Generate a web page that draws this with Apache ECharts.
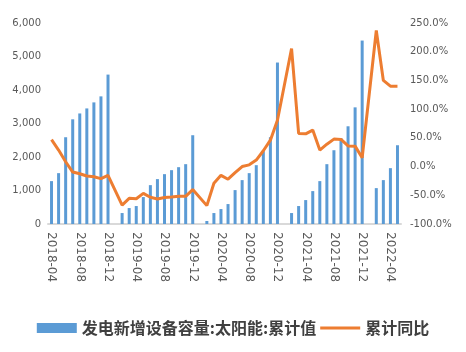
<!DOCTYPE html>
<html>
<head>
<meta charset="utf-8">
<script src="https://cdn.jsdelivr.net/npm/echarts@6/dist/echarts.min.js"></script>
<style>
  html, body { margin: 0; padding: 0; background: #fff; }
  #chart { width: 466px; height: 352px; }
</style>
</head>
<body>
<div id="chart"></div>
<script>
// 月份
var months = [
  '2018-04','2018-05','2018-06','2018-07','2018-08','2018-09','2018-10','2018-11','2018-12',
  '2019-01','2019-02','2019-03','2019-04','2019-05','2019-06','2019-07','2019-08','2019-09','2019-10','2019-11','2019-12',
  '2020-01','2020-02','2020-03','2020-04','2020-05','2020-06','2020-07','2020-08','2020-09','2020-10','2020-11','2020-12',
  '2021-01','2021-02','2021-03','2021-04','2021-05','2021-06','2021-07','2021-08','2021-09','2021-10','2021-11','2021-12',
  '2022-01','2022-02','2022-03','2022-04','2022-05'
];
// 太阳能累计值 (万千瓦)
var capacity = [
  1280, 1518, 2590, 3125, 3300, 3450, 3630, 3810, 4460,
  null, 327, 476, 536, 804, 1160, 1340, 1488, 1607, 1696, 1786, 2650,
  null, 90, 327, 446, 595, 1012, 1310, 1518, 1756, 2173, 2590, 4820,
  null, 327, 536, 714, 982, 1280, 1786, 2202, 2560, 2917, 3482, 5476,
  null, 1071, 1310, 1667, 2351
];
// 累计同比 (%)
var yoy = [
  47, 28.7, 8.4, -9.6, -12.5, -16.5, -17.7, -21, -15.3,
  null, -67, -55.3, -56, -46.6, -53.5, -56.5, -54, -53, -51.8, -51.8, -40,
  null, -68, -29, -15.3, -22, -10.7, 0, 3, 11.3, 27.5, 46, 80.8,
  null, 205.5, 57.7, 57, 63.5, 28.7, 39, 47.8, 47.3, 36, 35.6, 15.3,
  null, 237, 150, 140, 140
];

var chart = echarts.init(document.getElementById('chart'));

var axisFont = { fontFamily: 'DejaVu Sans', fontSize: 10, color: '#595959' };

var option = {
  animation: false,
  grid: { left: 48, right: 65, top: 23, bottom: 128, containLabel: false },
  legend: {
    left: 'center',
    top: 315,
    itemWidth: 40,
    itemHeight: 10,
    itemGap: 4,
    textStyle: { fontFamily: 'Noto Sans CJK SC', fontSize: 16, fontWeight: 'bold', color: '#404040' },
    data: [
      { name: '发电新增设备容量:太阳能:累计值', icon: 'rect' },
      { name: '累计同比', icon: 'path://M0,0 H40 V3 H0 Z' }
    ]
  },
  xAxis: {
    type: 'category',
    data: months,
    boundaryGap: true,
    axisLine: { lineStyle: { color: '#d9d9d9', width: 2 } },
    axisTick: { interval: 3, length: 5, lineStyle: { color: '#d9d9d9', width: 2 } },
    axisLabel: {
      interval: 3,
      rotate: -90,
      margin: 8,
      fontFamily: 'DejaVu Sans',
      fontSize: 12,
      color: '#595959'
    }
  },
  yAxis: [
    {
      type: 'value',
      min: 0,
      max: 6000,
      interval: 1000,
      splitLine: { show: false },
      axisLine: { show: false },
      axisTick: { show: false },
      axisLabel: Object.assign({
        margin: 7,
        formatter: function (v) { return v.toLocaleString('en-US'); }
      }, axisFont)
    },
    {
      type: 'value',
      min: -100,
      max: 250,
      interval: 50,
      splitLine: { show: false },
      axisLine: { show: false },
      axisTick: { show: false },
      axisLabel: Object.assign({
        margin: 9,
        formatter: function (v) { return v.toFixed(1) + '%'; }
      }, axisFont)
    }
  ],
  series: [
    {
      name: '发电新增设备容量:太阳能:累计值',
      type: 'bar',
      data: capacity,
      barWidth: 3,
      itemStyle: { color: '#5B9BD5' }
    },
    {
      name: '累计同比',
      type: 'line',
      yAxisIndex: 1,
      data: yoy,
      connectNulls: true,
      symbol: 'none',
      lineStyle: { color: '#ED7D31', width: 3 },
      itemStyle: { color: '#ED7D31' }
    }
  ]
};

chart.setOption(option);
</script>
</body>
</html>
